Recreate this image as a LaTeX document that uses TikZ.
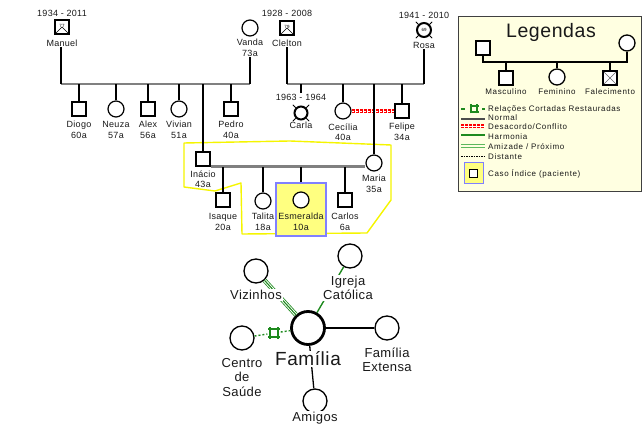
\documentclass[tikz,border=0pt]{standalone}
\usepackage{fontspec}
\setmainfont{Liberation Sans}
\newfontfamily\labfont[LetterSpace=3]{Liberation Sans}
\newfontfamily\legfont[LetterSpace=8]{Liberation Sans}
\definecolor{grn}{HTML}{1E8A1E}
\definecolor{lgreen}{HTML}{5DB85D}
\definecolor{legbg}{HTML}{FFFFE1}
\definecolor{idxfill}{HTML}{FFFF80}
\definecolor{idxborder}{HTML}{8080FF}
\definecolor{hl}{HTML}{F5F500}
\newcommand\deadnum[1]{\raisebox{1.5pt}{\fontsize{4.5}{5}\selectfont #1}}
% #1 = point, #2 = outer half size, #3 = inner half size
\newcommand\hashsym[3]{%
  \draw[grn,line width=1.7pt]
    ([shift={(-#2,-#3)}]#1) -- ([shift={(#2,-#3)}]#1)
    ([shift={(-#2,#3)}]#1) -- ([shift={(#2,#3)}]#1)
    ([shift={(-#3,-#2)}]#1) -- ([shift={(-#3,#2)}]#1)
    ([shift={(#3,-#2)}]#1) -- ([shift={(#3,#2)}]#1);}
\begin{document}
\begin{tikzpicture}[x=1pt,y=-1pt,
  pm/.style={draw,rectangle,minimum size=14pt,inner sep=0pt,line width=1.2pt,fill=white},
  pf/.style={draw,circle,minimum size=16pt,inner sep=0pt,line width=1.2pt,fill=white},
  deadsq/.style={line width=2pt,path picture={\draw[line width=0.5pt]
      (path picture bounding box.south west) -- (path picture bounding box.center)
      -- (path picture bounding box.south east);}},
  deadci/.style={line width=2pt},
  lbl/.style={inner sep=0.5pt,font=\labfont\fontsize{9}{10.5}\selectfont,text=black!90,align=center},
  kin/.style={line width=1.6pt,black},
  mar/.style={line width=2.4pt,draw=black!50},
  eco/.style={draw,circle,minimum size=24pt,inner sep=0pt,line width=1.3pt,fill=white},
  etxt/.style={inner sep=1pt,fill=white,font=\labfont\fontsize{13}{14.5}\selectfont,align=center,text=black!90},
  lg/.style={inner sep=0pt,font=\legfont\fontsize{8}{9}\selectfont,anchor=west,text=black!90},
  lgc/.style={inner sep=0pt,font=\legfont\fontsize{8}{9}\selectfont,text=black!90},
]
\useasboundingbox (0,0) rectangle (643,427);

% highlight outline of nuclear family
\draw[hl,line width=1.4pt,line join=round] (184,143) -- (290,141) -- (391,145) -- (391,200)
  -- (367,233) -- (242,234) -- (241,183) -- (215,191) -- (184,187) -- cycle;

% ---------- generation 1 ----------
\node[pm,deadsq] (manuel) at (62,27) {\deadnum{77}};
\node[lbl] (manuelY) at (62,13) {1934 - 2011};
\node[lbl] (manuelL) at (62,43) {Manuel};
\node[pf] (vanda) at (250,28) {};
\node[lbl] (vandaL) at (250,48) {Vanda\\73a};
\node[pm,deadsq] (clelton) at (287,28) {\deadnum{79}};
\node[lbl] (cleltonY) at (287,13) {1928 - 2008};
\node[lbl] (cleltonL) at (287,43) {Clelton};
\node[pf,deadci,minimum size=14pt] (rosa) at (424,30) {\fontsize{4.5}{5}\selectfont 69};
\foreach \a in {45,135,225,315} \draw[line width=0.8pt] (rosa.\a) -- ++(\a:3.5pt);
\node[lbl] (rosaY) at (424,15) {1941 - 2010};
\node[lbl] (rosaL) at (424,45) {Rosa};

% ---------- generation 2 ----------
\node[pm] (diogo) at (79,109) {};
\node[lbl] (diogoL) at (79,130) {Diogo\\60a};
\node[pf] (neuza) at (116,109) {};
\node[lbl] (neuzaL) at (116,130) {Neuza\\57a};
\node[pm] (alex) at (148,109) {};
\node[lbl] (alexL) at (148,130) {Alex\\56a};
\node[pf] (vivian) at (179,109) {};
\node[lbl] (vivianL) at (179,130) {Vivian\\51a};
\node[pm] (pedro) at (231,109) {};
\node[lbl] (pedroL) at (231,130) {Pedro\\40a};
\node[pm] (inacio) at (203,159) {};
\node[lbl] (inacioL) at (203,179) {Inácio\\43a};

\node[lbl] (carlaY) at (301,97) {1963 - 1964};
\node[pf,deadci,minimum size=13pt] (carla) at (301,113) {};
\foreach \a in {45,135,225,315} \draw[line width=0.8pt] (carla.\a) -- ++(\a:4pt);
\node[lbl] (carlaL) at (301,125) {Carla};
\node[pf] (cecilia) at (343,111) {};
\node[lbl] (ceciliaL) at (343,132) {Cecília\\40a};
\node[pm] (felipe) at (402,111) {};
\node[lbl] (felipeL) at (402,132) {Felipe\\34a};
\node[pf] (maria) at (374,163) {};
\node[lbl] (mariaL) at (374,184) {Maria\\35a};

% ---------- generation 3 ----------
\node[draw=idxborder,fill=idxfill,line width=1.3pt,minimum width=50pt,minimum height=53pt,inner sep=0pt] (idxbox) at (301,209.5) {};
\node[pm] (isaque) at (223,200) {};
\node[lbl] (isaqueL) at (223,222) {Isaque\\20a};
\node[pf] (talita) at (263,201) {};
\node[lbl] (talitaL) at (263,222) {Talita\\18a};
\node[pf] (esmeralda) at (301,200) {};
\node[lbl] (esmeraldaL) at (301,222) {Esmeralda\\10a};
\node[pm] (carlos) at (345,200) {};
\node[lbl] (carlosL) at (345,222) {Carlos\\6a};

% ---------- pedigree lines ----------
\coordinate (mvA) at (61,84);
\coordinate (mvB) at (250,84);
\draw[mar] (mvA) -- (mvB);
\draw[kin] (manuelL.south -| mvA) -- (mvA);
\draw[kin] (vandaL.south -| mvB) -- (mvB);
\foreach \n in {diogo,neuza,alex,vivian,pedro,inacio}
  \draw[kin] (\n.north) -- (\n.north |- mvA);

\coordinate (crA) at (287,84);
\coordinate (crB) at (424,84);
\draw[mar] (crA) -- (crB);
\draw[kin] (cleltonL.south -| crA) -- (crA);
\draw[kin] (rosaL.south -| crB) -- (crB);
\draw[kin] (carlaY.north) -- (carlaY.north |- crA);
\foreach \n in {cecilia,felipe}
  \draw[kin] (\n.north) -- (\n.north |- crA);

% conflict Cecília - Felipe
\draw[red,line width=4.5pt,dash pattern=on 3pt off 1pt] (cecilia.east) -- (felipe.west);
\draw[white,line width=0.8pt,dash pattern=on 2pt off 2pt] (cecilia.east) -- (felipe.west);
\draw[kin] (maria.north) -- (maria.north |- crA);

% marriage Inácio - Maria
\draw[mar] (inacio.south east) -- (inacio.south east -| maria.west);
\foreach \n in {isaque,talita,carlos}
  \draw[kin] (\n.north) -- (\n.north |- inacio.south);
\draw[kin] (idxbox.north) -- (idxbox.north |- inacio.south);

% ---------- ecomap ----------
\node[eco,minimum size=33pt,line width=2.8pt] (familia) at (308,328) {};
\node[eco] (vizinhos) at (256,271) {};
\node[eco] (igreja) at (350,256) {};
\node[eco] (extensa) at (387,328) {};
\node[eco] (centro) at (242,338) {};
\node[eco] (amigos) at (315,401) {};
\node[minimum size=13pt,inner sep=0pt] (restC) at (274,333) {};

\draw[grn,line width=4.6pt] (vizinhos) -- (familia);
\draw[white,line width=3pt] (vizinhos) -- (familia);
\draw[grn,line width=1.1pt] (vizinhos) -- (familia);
\draw[grn,line width=1.4pt] (igreja) -- (familia);
\draw[line width=1.6pt] (familia) -- (extensa);
\draw[line width=1.3pt] (familia) -- (amigos);
\draw[grn,line width=1.4pt,dash pattern=on 2pt off 2pt] (centro) -- (restC);
\draw[grn,line width=1.4pt,dash pattern=on 2pt off 2pt] (restC) -- (familia);
\hashsym{restC.center}{6pt}{4pt}

\node[etxt] (vizinhosL) at (256,295) {Vizinhos};
\node[etxt] (igrejaL) at (348,288) {Igreja\\Católica};
\node[etxt] (extensaL) at (387,360) {Família\\Extensa};
\node[etxt] (centroL) at (242,377.5) {Centro\\de\\Saúde};
\node[etxt] (amigosL) at (315,418) {Amigos};
\node[inner sep=1pt,fill=white,font=\labfont\fontsize{19}{21}\selectfont,text=black!90] (familiaL) at (308,359) {Família};

% ---------- legend ----------
\draw[black!75,fill=legbg,line width=0.8pt] (458,16) rectangle (641,191);
\node[inner sep=0pt,font=\labfont\fontsize{19.5}{22}\selectfont,text=black!90] (legT) at (551,32) {Legendas};
\node[pm,line width=1.3pt] (lgM) at (483,48) {};
\node[pf,line width=1.3pt] (lgF) at (627,43) {};
\node[pm,line width=1.3pt] (lgA) at (506,78) {};
\node[pf,line width=1.3pt] (lgB) at (557,77) {};
\node[pm,line width=1.3pt,path picture={\draw[black!60,line width=0.6pt]
   (path picture bounding box.south west) -- (path picture bounding box.north east)
   (path picture bounding box.north west) -- (path picture bounding box.south east);}] (lgC) at (610,78) {};
\coordinate (lgJ) at (483,62);
\draw[line width=1.3pt] (lgM.south) -- (lgJ) -- (lgJ -| lgF.south) -- (lgF.south);
\foreach \n in {lgA,lgB,lgC} \draw[line width=1.3pt] (\n.north) -- (\n.north |- lgJ);
\node[lgc] (lgAL) at (506,92) {Masculino};
\node[lgc] (lgBL) at (557,92) {Feminino};
\node[lgc] (lgCL) at (610,92) {Falecimento};

\coordinate (lgR) at (474,109);
\draw[grn,line width=1.3pt] (461,109) -- (465,109) (482,109) -- (485,109);
\hashsym{lgR}{4.5pt}{3pt}
\draw[black!70,line width=1.5pt] (461,119) -- (485,119);
\draw[red,line width=3.6pt,dash pattern=on 3pt off 1pt] (461,126) -- (485,126);
\draw[white,line width=0.7pt] (461,126) -- (485,126);
\draw[grn,line width=1.4pt] (461,135) -- (485,135);
\draw[lgreen,line width=1pt] (461,145) -- (485,145) (461,147.5) -- (485,147.5);
\draw[black,line width=0.5pt,dash pattern=on 1.5pt off 1pt] (461,156) -- (485,156);
\draw[idxborder,fill=idxfill,line width=1pt] (464,163) rectangle (483,184);
\node[pm,minimum size=8pt,line width=1pt] (lgIdx) at (473.5,173.5) {};

\node[lg] at (488,109) {Relações Cortadas Restauradas};
\node[lg] at (488,118) {Normal};
\node[lg] at (488,127) {Desacordo/Conflito};
\node[lg] at (488,137) {Harmonia};
\node[lg] at (488,147) {Amizade / Próximo};
\node[lg] at (488,157) {Distante};
\node[lg] at (488,174) {Caso Índice (paciente)};
\end{tikzpicture}
\end{document}
